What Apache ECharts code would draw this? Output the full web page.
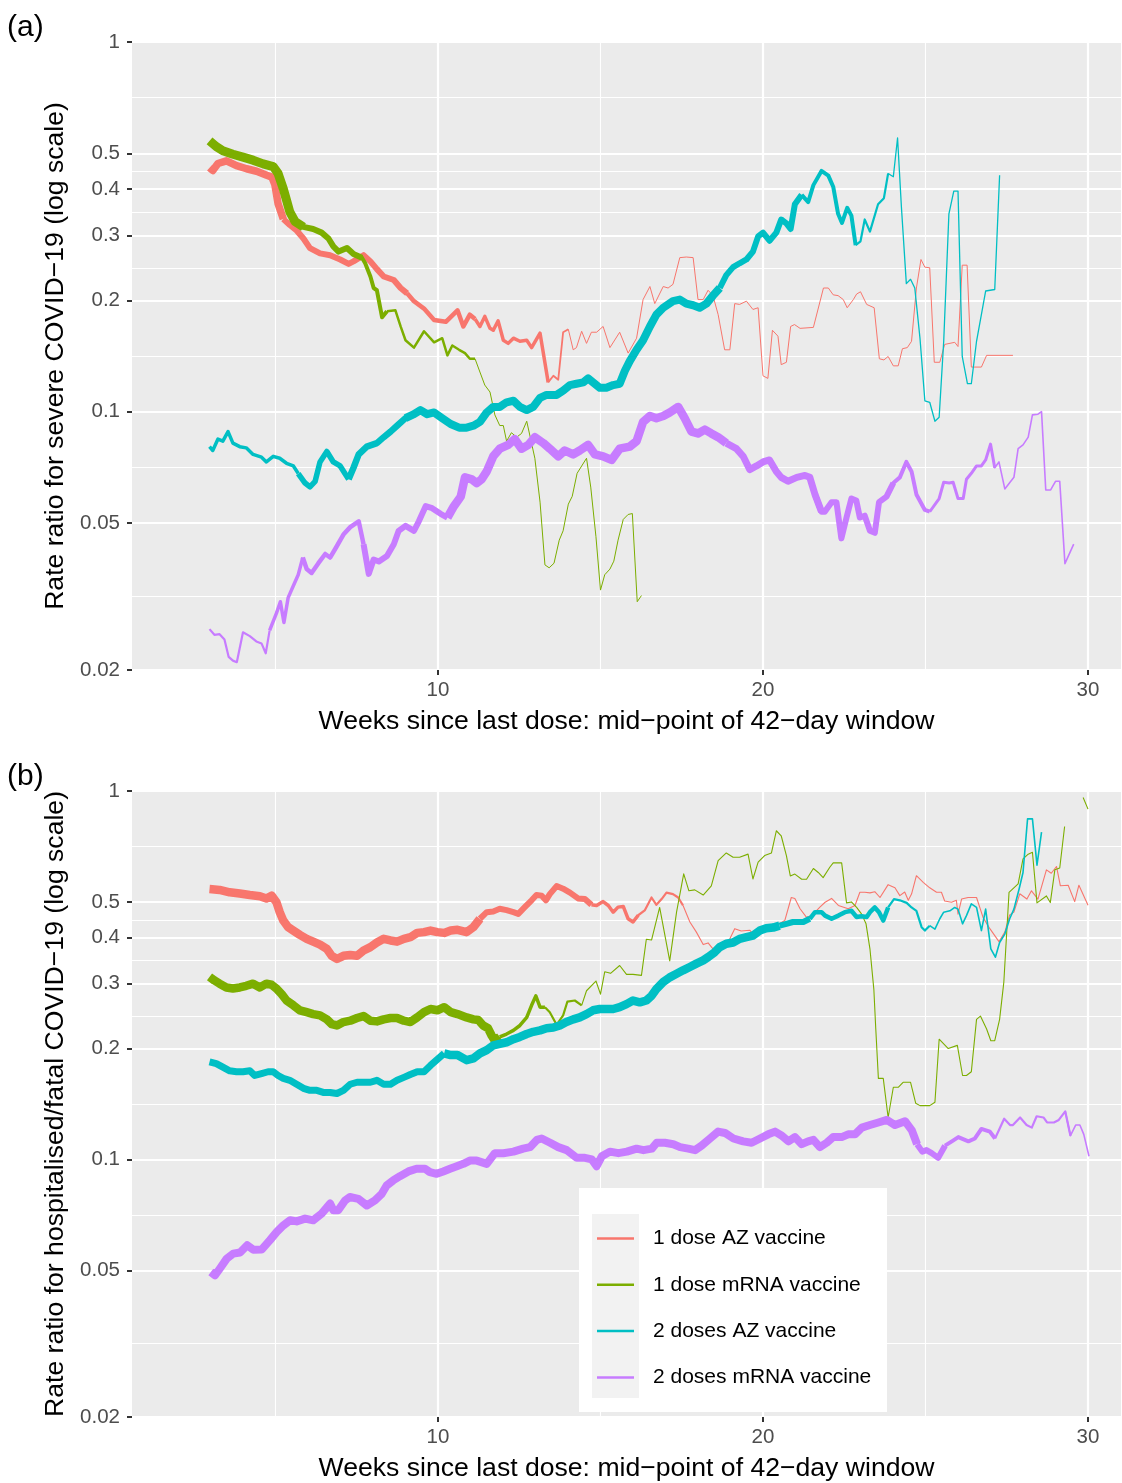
<!DOCTYPE html>
<html><head><meta charset="utf-8">
<script src="https://cdn.jsdelivr.net/npm/echarts@6/dist/echarts.min.js"></script>
<style>html,body{margin:0;padding:0;background:#fff}#c{width:1122px;height:1483px}</style>
</head><body><div id="c"></div>
<script>
// ---------------- DATA ----------------
const seriesNames = ['1 dose AZ vaccine', '1 dose mRNA vaccine', '2 doses AZ vaccine', '2 doses mRNA vaccine'];
const xTickLabels = [10, 20, 30];
const xMinorBreaks = [5, 15, 25];
const yTickLabels = [0.02, 0.05, 0.1, 0.2, 0.3, 0.4, 0.5, 1];

// Panel (a): severe COVID-19, [week, rate ratio]
const aDose1AZ = [[2.97,0.457],[3.07,0.449],[3.23,0.469],[3.49,0.477],[3.80,0.463],[4.11,0.454],[4.42,0.447],[4.73,0.436],[4.89,0.431],[4.98,0.411],[5.08,0.365],[5.24,0.332],[5.44,0.320],[5.65,0.309],[5.86,0.294],[6.06,0.277],[6.37,0.268],[6.68,0.265],[6.99,0.258],[7.25,0.251],[7.40,0.255],[7.71,0.265],[7.92,0.255],[8.12,0.243],[8.33,0.232],[8.64,0.227],[8.85,0.216],[9.05,0.209],[9.26,0.199],[9.57,0.190],[9.88,0.177],[10.24,0.175],[10.60,0.188],[10.78,0.170],[10.98,0.183],[11.14,0.178],[11.29,0.170],[11.44,0.181],[11.60,0.168],[11.70,0.166],[11.85,0.176],[12.01,0.156],[12.16,0.153],[12.32,0.158],[12.52,0.155],[12.73,0.156],[12.88,0.149],[13.14,0.163],[13.39,0.120],[13.55,0.125],[13.70,0.122],[13.85,0.164],[14.01,0.167],[14.16,0.147],[14.26,0.149],[14.42,0.165],[14.57,0.153],[14.72,0.164],[14.88,0.164],[15.08,0.170],[15.29,0.149],[15.59,0.164],[15.85,0.144],[16.11,0.158],[16.31,0.201],[16.52,0.218],[16.67,0.196],[16.93,0.218],[17.08,0.216],[17.23,0.221],[17.44,0.261],[17.64,0.262],[17.85,0.261],[18.00,0.201],[18.16,0.201],[18.31,0.213],[18.46,0.206],[18.62,0.183],[18.82,0.147],[18.98,0.147],[19.13,0.196],[19.28,0.195],[19.49,0.199],[19.69,0.189],[19.85,0.191],[20.00,0.125],[20.15,0.123],[20.29,0.166],[20.46,0.160],[20.56,0.134],[20.72,0.136],[20.85,0.170],[20.97,0.172],[21.14,0.168],[21.55,0.169],[21.86,0.216],[22.01,0.216],[22.16,0.207],[22.31,0.206],[22.47,0.201],[22.59,0.191],[22.78,0.201],[22.88,0.208],[23.00,0.211],[23.19,0.195],[23.42,0.191],[23.58,0.139],[23.72,0.138],[23.85,0.141],[24.01,0.133],[24.16,0.133],[24.29,0.148],[24.44,0.149],[24.57,0.155],[24.72,0.216],[24.86,0.258],[24.98,0.246],[25.13,0.245],[25.27,0.136],[25.44,0.136],[25.59,0.152],[25.90,0.154],[26.00,0.150],[26.13,0.249],[26.28,0.249],[26.41,0.132],[26.72,0.132],[26.88,0.142],[27.69,0.142]];
const aDose1MRNA = [[2.97,0.540],[3.18,0.521],[3.38,0.508],[3.69,0.497],[4.00,0.488],[4.31,0.479],[4.62,0.468],[4.93,0.460],[5.08,0.441],[5.24,0.401],[5.34,0.373],[5.44,0.347],[5.60,0.327],[5.86,0.316],[6.16,0.312],[6.42,0.305],[6.63,0.294],[6.78,0.280],[6.94,0.271],[7.20,0.277],[7.40,0.267],[7.66,0.261],[7.76,0.252],[7.92,0.232],[8.02,0.216],[8.12,0.213],[8.28,0.180],[8.43,0.187],[8.69,0.188],[8.85,0.170],[9.00,0.156],[9.26,0.149],[9.57,0.165],[9.88,0.154],[10.13,0.158],[10.29,0.142],[10.44,0.151],[10.65,0.147],[10.83,0.144],[10.98,0.139],[11.14,0.139],[11.29,0.128],[11.44,0.118],[11.60,0.113],[11.75,0.098],[11.90,0.0917],[12.01,0.0917],[12.11,0.0832],[12.26,0.0877],[12.42,0.0853],[12.57,0.0873],[12.73,0.0942],[12.98,0.0748],[13.14,0.0569],[13.29,0.0385],[13.42,0.0378],[13.57,0.0389],[13.73,0.0449],[13.85,0.0476],[14.01,0.0562],[14.13,0.0590],[14.28,0.0681],[14.57,0.0748],[14.70,0.0625],[14.86,0.0459],[15.00,0.0329],[15.13,0.0362],[15.29,0.0375],[15.41,0.0394],[15.54,0.0449],[15.70,0.0511],[15.85,0.0527],[15.98,0.0530],[16.13,0.0306],[16.26,0.0318]];
const aDose2AZ = [[2.97,0.0804],[3.07,0.0785],[3.23,0.0843],[3.38,0.0832],[3.54,0.0883],[3.69,0.0822],[3.90,0.0804],[4.10,0.0798],[4.31,0.0766],[4.57,0.0753],[4.72,0.0731],[4.93,0.0757],[5.13,0.0748],[5.34,0.0725],[5.55,0.0713],[5.70,0.0680],[5.91,0.0641],[6.06,0.0626],[6.22,0.0648],[6.37,0.0731],[6.58,0.0780],[6.78,0.0731],[6.99,0.0713],[7.25,0.0656],[7.40,0.0705],[7.56,0.0766],[7.81,0.0804],[8.12,0.0822],[8.33,0.0853],[8.54,0.0883],[8.74,0.0916],[9.00,0.0960],[9.26,0.0984],[9.46,0.101],[9.67,0.0984],[9.88,0.0995],[10.13,0.0960],[10.39,0.0926],[10.65,0.0905],[10.88,0.0905],[11.09,0.0916],[11.29,0.0938],[11.50,0.0995],[11.70,0.103],[11.90,0.103],[12.11,0.106],[12.32,0.107],[12.52,0.103],[12.73,0.101],[12.93,0.103],[13.14,0.109],[13.34,0.111],[13.65,0.111],[13.85,0.114],[14.06,0.118],[14.26,0.119],[14.47,0.120],[14.62,0.123],[14.77,0.120],[14.98,0.116],[15.18,0.116],[15.39,0.118],[15.59,0.119],[15.75,0.129],[15.90,0.137],[16.11,0.147],[16.31,0.156],[16.52,0.170],[16.72,0.183],[16.93,0.191],[17.23,0.199],[17.44,0.201],[17.64,0.196],[17.85,0.194],[18.05,0.191],[18.26,0.196],[18.46,0.206],[18.67,0.216],[18.87,0.234],[19.08,0.246],[19.28,0.252],[19.49,0.258],[19.69,0.271],[19.85,0.298],[20.00,0.305],[20.20,0.290],[20.41,0.305],[20.56,0.331],[20.72,0.323],[20.85,0.312],[20.98,0.364],[21.19,0.386],[21.39,0.369],[21.55,0.410],[21.80,0.448],[22.01,0.435],[22.16,0.406],[22.31,0.343],[22.43,0.324],[22.59,0.356],[22.72,0.339],[22.85,0.282],[23.00,0.289],[23.13,0.331],[23.29,0.307],[23.54,0.364],[23.72,0.378],[23.85,0.441],[24.01,0.432],[24.14,0.550],[24.26,0.356],[24.41,0.222],[24.54,0.228],[24.67,0.216],[24.83,0.158],[24.98,0.107],[25.13,0.106],[25.29,0.0942],[25.42,0.0966],[25.56,0.155],[25.72,0.343],[25.87,0.395],[26.00,0.395],[26.13,0.141],[26.29,0.119],[26.41,0.119],[26.57,0.155],[26.85,0.212],[27.13,0.214],[27.28,0.436]];
const aDose2MRNA = [[2.97,0.0258],[3.12,0.0249],[3.28,0.0250],[3.43,0.0242],[3.56,0.0217],[3.69,0.0212],[3.81,0.0210],[4.00,0.0253],[4.21,0.0247],[4.41,0.0239],[4.57,0.0236],[4.70,0.0222],[4.82,0.0256],[5.03,0.0285],[5.15,0.0306],[5.26,0.0269],[5.39,0.0314],[5.55,0.0338],[5.70,0.0362],[5.84,0.0403],[5.96,0.0375],[6.11,0.0366],[6.32,0.0389],[6.53,0.0412],[6.68,0.0403],[6.89,0.0433],[7.09,0.0465],[7.30,0.0487],[7.56,0.0505],[7.71,0.0438],[7.87,0.0364],[8.02,0.0398],[8.18,0.0393],[8.43,0.0407],[8.64,0.0438],[8.79,0.0476],[9.00,0.0491],[9.26,0.0476],[9.41,0.0505],[9.62,0.0555],[9.82,0.0548],[10.08,0.0529],[10.29,0.0517],[10.49,0.0555],[10.70,0.0589],[10.83,0.0664],[11.04,0.0656],[11.19,0.0641],[11.34,0.0656],[11.50,0.0689],[11.70,0.0757],[11.90,0.0794],[12.16,0.0813],[12.36,0.0843],[12.57,0.0794],[12.78,0.0813],[12.98,0.0853],[13.24,0.0822],[13.44,0.0794],[13.70,0.0757],[13.90,0.0785],[14.16,0.0766],[14.36,0.0785],[14.62,0.0813],[14.83,0.0766],[15.08,0.0757],[15.34,0.0740],[15.59,0.0794],[15.90,0.0804],[16.11,0.0832],[16.31,0.0938],[16.52,0.0973],[16.72,0.0960],[16.93,0.0973],[17.13,0.0995],[17.39,0.103],[17.59,0.0960],[17.80,0.0883],[18.00,0.0873],[18.21,0.0894],[18.41,0.0873],[18.62,0.0853],[18.87,0.0822],[19.18,0.0794],[19.39,0.0757],[19.59,0.0697],[19.80,0.0713],[20.00,0.0731],[20.20,0.0740],[20.41,0.0689],[20.56,0.0664],[20.77,0.0648],[21.04,0.0664],[21.29,0.0672],[21.44,0.0664],[21.60,0.0597],[21.80,0.0536],[21.90,0.0536],[22.11,0.0569],[22.26,0.0569],[22.41,0.0454],[22.57,0.0517],[22.72,0.0582],[22.87,0.0575],[22.98,0.0517],[23.13,0.0523],[23.29,0.0476],[23.44,0.0470],[23.57,0.0569],[23.80,0.0589],[24.01,0.0641],[24.21,0.0664],[24.41,0.0731],[24.57,0.0689],[24.72,0.0597],[24.98,0.0542],[25.13,0.0536],[25.42,0.0582],[25.56,0.0644],[25.73,0.0641],[25.85,0.0644],[26.00,0.0582],[26.16,0.0582],[26.26,0.0656],[26.41,0.0681],[26.57,0.0713],[26.72,0.0713],[26.85,0.0740],[27.00,0.0817],[27.13,0.0705],[27.26,0.0731],[27.44,0.0618],[27.72,0.0664],[27.85,0.0794],[28.00,0.0813],[28.16,0.0853],[28.29,0.0980],[28.46,0.0984],[28.57,0.100],[28.70,0.0614],[28.85,0.0614],[29.00,0.0648],[29.13,0.0648],[29.29,0.0388],[29.56,0.0438]];

// Panel (b): hospitalised/fatal COVID-19, [week, rate ratio]
const bDose1AZ = [[2.97,0.542],[3.28,0.539],[3.59,0.531],[3.90,0.527],[4.21,0.522],[4.52,0.518],[4.72,0.511],[4.88,0.520],[5.03,0.499],[5.13,0.469],[5.24,0.445],[5.39,0.427],[5.55,0.418],[5.75,0.407],[5.96,0.397],[6.16,0.390],[6.37,0.383],[6.58,0.373],[6.73,0.357],[6.89,0.350],[7.09,0.357],[7.30,0.359],[7.51,0.357],[7.71,0.369],[7.92,0.377],[8.12,0.388],[8.33,0.397],[8.54,0.393],[8.74,0.390],[8.95,0.397],[9.15,0.401],[9.36,0.412],[9.57,0.414],[9.77,0.418],[9.98,0.414],[10.19,0.412],[10.39,0.418],[10.60,0.420],[10.88,0.414],[11.09,0.427],[11.29,0.450],[11.50,0.469],[11.70,0.471],[11.90,0.479],[12.11,0.475],[12.32,0.469],[12.47,0.464],[12.67,0.484],[12.88,0.505],[13.03,0.522],[13.19,0.520],[13.32,0.505],[13.44,0.525],[13.65,0.552],[13.85,0.543],[14.06,0.530],[14.31,0.511],[14.52,0.509],[14.72,0.491],[14.88,0.489],[15.08,0.501],[15.24,0.489],[15.39,0.469],[15.54,0.484],[15.70,0.486],[15.85,0.450],[16.00,0.441],[16.16,0.460],[16.36,0.474],[16.57,0.514],[16.72,0.491],[16.88,0.509],[17.03,0.530],[17.23,0.525],[17.39,0.514],[17.54,0.489],[17.75,0.441],[17.95,0.414],[18.16,0.383],[18.31,0.387],[18.46,0.373],[18.67,0.366],[18.98,0.397],[19.13,0.423],[19.33,0.417],[19.59,0.419],[19.69,0.410],[19.90,0.427],[20.15,0.431],[20.41,0.431],[20.67,0.445],[20.87,0.514],[20.98,0.511],[21.14,0.479],[21.34,0.454],[21.50,0.459],[21.75,0.484],[21.91,0.499],[22.11,0.511],[22.32,0.489],[22.62,0.479],[22.83,0.489],[22.98,0.531],[23.13,0.531],[23.29,0.529],[23.44,0.533],[23.60,0.514],[23.85,0.557],[24.06,0.546],[24.21,0.520],[24.36,0.532],[24.47,0.505],[24.57,0.525],[24.72,0.589],[24.93,0.565],[25.13,0.546],[25.34,0.531],[25.49,0.531],[25.59,0.503],[25.80,0.499],[25.95,0.505],[26.00,0.463],[26.11,0.509],[26.31,0.514],[26.57,0.514],[26.77,0.454],[26.98,0.423],[27.26,0.390],[27.44,0.414],[27.59,0.461],[27.72,0.469],[27.90,0.526],[28.12,0.509],[28.26,0.536],[28.46,0.509],[28.72,0.611],[28.87,0.598],[29.03,0.624],[29.15,0.553],[29.39,0.555],[29.59,0.501],[29.72,0.555],[30.00,0.490]];
const bDose1MRNA = [[2.97,0.313],[3.12,0.306],[3.28,0.300],[3.49,0.293],[3.69,0.291],[3.90,0.293],[4.10,0.296],[4.31,0.300],[4.52,0.293],[4.72,0.300],[4.88,0.298],[5.03,0.291],[5.19,0.281],[5.34,0.270],[5.55,0.262],[5.75,0.254],[5.96,0.251],[6.16,0.248],[6.37,0.246],[6.58,0.240],[6.73,0.233],[6.89,0.231],[7.09,0.236],[7.30,0.238],[7.51,0.242],[7.71,0.245],[7.92,0.238],[8.12,0.237],[8.33,0.240],[8.54,0.242],[8.74,0.242],[8.95,0.238],[9.15,0.236],[9.36,0.243],[9.57,0.251],[9.77,0.256],[9.98,0.254],[10.19,0.259],[10.39,0.251],[10.60,0.248],[10.88,0.243],[11.09,0.240],[11.24,0.239],[11.39,0.231],[11.54,0.227],[11.65,0.217],[11.75,0.210],[11.90,0.215],[12.11,0.219],[12.32,0.224],[12.52,0.231],[12.73,0.243],[12.88,0.262],[13.01,0.278],[13.14,0.259],[13.29,0.259],[13.44,0.251],[13.65,0.232],[13.85,0.246],[13.98,0.268],[14.21,0.270],[14.42,0.262],[14.57,0.287],[14.86,0.305],[15.00,0.281],[15.13,0.323],[15.31,0.320],[15.59,0.336],[15.80,0.318],[16.00,0.318],[16.26,0.316],[16.41,0.396],[16.57,0.394],[16.82,0.483],[17.13,0.346],[17.34,0.469],[17.56,0.596],[17.72,0.536],[17.90,0.539],[18.16,0.522],[18.41,0.553],[18.62,0.647],[18.87,0.679],[19.08,0.661],[19.28,0.661],[19.54,0.674],[19.69,0.577],[19.85,0.641],[20.05,0.668],[20.26,0.679],[20.41,0.780],[20.56,0.756],[20.72,0.668],[20.84,0.588],[20.98,0.595],[21.19,0.576],[21.34,0.576],[21.55,0.616],[21.70,0.601],[21.85,0.582],[22.06,0.622],[22.16,0.638],[22.42,0.638],[22.57,0.497],[22.72,0.500],[22.88,0.483],[23.03,0.464],[23.17,0.436],[23.29,0.373],[23.41,0.290],[23.47,0.226],[23.55,0.166],[23.70,0.166],[23.85,0.130],[24.01,0.157],[24.16,0.157],[24.31,0.162],[24.54,0.162],[24.70,0.142],[24.83,0.140],[25.13,0.140],[25.29,0.143],[25.42,0.212],[25.70,0.200],[25.98,0.204],[26.14,0.169],[26.26,0.169],[26.41,0.173],[26.57,0.240],[26.69,0.245],[26.88,0.226],[27.01,0.210],[27.13,0.210],[27.28,0.240],[27.41,0.303],[27.57,0.531],[27.85,0.560],[28.00,0.654],[28.16,0.674],[28.29,0.682],[28.43,0.497],[28.72,0.519],[28.84,0.498],[28.98,0.611],[29.13,0.618],[29.28,0.801],[29.55,null],[29.85,0.960],[30.00,0.893]];
const bDose2AZ = [[2.97,0.184],[3.18,0.182],[3.38,0.178],[3.59,0.174],[3.80,0.173],[4.00,0.173],[4.21,0.174],[4.36,0.169],[4.57,0.171],[4.77,0.173],[4.93,0.173],[5.08,0.169],[5.24,0.166],[5.44,0.164],[5.65,0.160],[5.86,0.156],[6.06,0.154],[6.27,0.154],[6.47,0.152],[6.68,0.152],[6.89,0.151],[7.09,0.154],[7.30,0.160],[7.51,0.162],[7.71,0.162],[7.92,0.162],[8.12,0.164],[8.33,0.160],[8.54,0.160],[8.74,0.164],[8.95,0.167],[9.15,0.170],[9.36,0.173],[9.57,0.173],[9.77,0.180],[9.98,0.187],[10.19,0.194],[10.39,0.192],[10.60,0.192],[10.88,0.186],[11.09,0.188],[11.29,0.194],[11.50,0.198],[11.70,0.204],[11.90,0.206],[12.11,0.208],[12.32,0.212],[12.52,0.215],[12.73,0.219],[12.93,0.222],[13.14,0.224],[13.34,0.227],[13.55,0.228],[13.75,0.231],[13.95,0.236],[14.16,0.240],[14.36,0.243],[14.57,0.248],[14.77,0.254],[14.98,0.256],[15.18,0.256],[15.39,0.256],[15.59,0.259],[15.80,0.264],[16.00,0.270],[16.21,0.267],[16.41,0.270],[16.57,0.278],[16.72,0.290],[16.93,0.303],[17.13,0.312],[17.34,0.319],[17.54,0.326],[17.75,0.333],[17.95,0.340],[18.16,0.347],[18.31,0.354],[18.51,0.365],[18.67,0.377],[18.87,0.385],[19.08,0.388],[19.28,0.397],[19.49,0.401],[19.69,0.405],[19.90,0.418],[20.10,0.424],[20.31,0.426],[20.51,0.431],[20.72,0.436],[20.92,0.441],[21.04,0.441],[21.24,0.441],[21.44,0.450],[21.60,0.469],[21.80,0.469],[21.91,0.459],[22.11,0.450],[22.32,0.459],[22.52,0.469],[22.72,0.473],[22.88,0.455],[23.03,0.457],[23.19,0.455],[23.29,0.469],[23.44,0.483],[23.57,0.469],[23.70,0.445],[23.85,0.483],[24.03,0.509],[24.21,0.505],[24.42,0.497],[24.57,0.483],[24.72,0.473],[24.88,0.427],[24.98,0.418],[25.13,0.431],[25.29,0.422],[25.44,0.450],[25.56,0.469],[25.75,0.473],[25.90,0.483],[26.00,0.478],[26.14,0.436],[26.26,0.459],[26.41,0.494],[26.57,0.483],[26.72,0.418],[26.85,0.478],[27.01,0.373],[27.15,0.354],[27.28,0.388],[27.44,0.409],[27.59,0.450],[27.72,0.478],[27.88,0.542],[28.00,0.601],[28.14,0.840],[28.29,0.840],[28.43,0.629],[28.57,0.773]];
const bDose2MRNA = [[3.01,0.0495],[3.14,0.0485],[3.29,0.0506],[3.50,0.0538],[3.70,0.0555],[3.91,0.0559],[4.13,0.0585],[4.32,0.0569],[4.58,0.0570],[4.83,0.0604],[5.04,0.0636],[5.24,0.0662],[5.45,0.0684],[5.65,0.0679],[5.91,0.0691],[6.16,0.0684],[6.42,0.0713],[6.68,0.0759],[6.78,0.0728],[6.93,0.0728],[7.14,0.0774],[7.29,0.0791],[7.55,0.0782],[7.81,0.0750],[8.06,0.0774],[8.27,0.0807],[8.42,0.0850],[8.62,0.0877],[8.83,0.0901],[9.09,0.0928],[9.34,0.0944],[9.60,0.0944],[9.75,0.0924],[9.96,0.0914],[10.16,0.0928],[10.37,0.0944],[10.58,0.0959],[10.78,0.0973],[10.98,0.0993],[11.19,0.0993],[11.50,0.0973],[11.75,0.104],[12.01,0.104],[12.32,0.105],[12.62,0.107],[12.83,0.108],[13.04,0.113],[13.19,0.114],[13.45,0.111],[13.70,0.108],[13.96,0.106],[14.27,0.101],[14.52,0.101],[14.73,0.100],[14.88,0.0959],[15.04,0.102],[15.29,0.105],[15.55,0.104],[15.81,0.105],[16.11,0.107],[16.32,0.106],[16.58,0.107],[16.73,0.111],[16.98,0.111],[17.24,0.110],[17.45,0.108],[17.70,0.107],[17.91,0.106],[18.11,0.109],[18.37,0.114],[18.62,0.119],[18.83,0.118],[19.09,0.114],[19.39,0.112],[19.65,0.111],[19.91,0.114],[20.16,0.117],[20.37,0.119],[20.58,0.116],[20.78,0.112],[20.98,0.115],[21.19,0.110],[21.39,0.112],[21.55,0.113],[21.75,0.108],[21.96,0.111],[22.16,0.115],[22.42,0.115],[22.62,0.117],[22.83,0.117],[23.04,0.122],[23.29,0.124],[23.55,0.126],[23.81,0.128],[24.06,0.124],[24.37,0.127],[24.58,0.120],[24.74,0.110],[24.90,0.105],[25.03,0.106],[25.19,0.104],[25.39,0.101],[25.60,0.109],[25.81,0.112],[26.01,0.115],[26.32,0.112],[26.52,0.114],[26.72,0.121],[26.98,0.119],[27.14,0.114],[27.42,0.129],[27.60,0.124],[27.69,0.124],[27.91,0.130],[28.11,0.124],[28.27,0.122],[28.42,0.131],[28.63,0.130],[28.74,0.126],[28.95,0.126],[29.10,0.128],[29.30,0.135],[29.46,0.116],[29.62,0.124],[29.75,0.124],[29.87,0.117],[30.03,0.102]];

// ---------------- STYLE ----------------
const COLORS = ['#F8766D', '#7CAE00', '#00BFC4', '#C77CFF'];
// line width steps: [up to week, width]
const WIDTHS_A = [
  [[5.2,7.5],[9,6],[11,4.5],[13.3,3.5],[14,1.8],[99,1]],
  [[5.6,9],[7.4,6],[8.3,4],[11,2.5],[99,1]],
  [[5.6,3.5],[7.1,5.5],[9,6.5],[18.5,8],[21,6],[22.8,4],[23.8,2.2],[99,1.3]],
  [[4.8,2.2],[5.8,3.5],[7.7,4.5],[10.2,6],[18.7,8.5],[21.6,7],[23.8,6],[25,4],[27,3],[99,1.6]]
];
const WIDTHS_B = [
  [[11.2,8.5],[14.7,6],[16,3.5],[17.5,2.2],[99,1.1]],
  [[11.8,8.5],[13.2,3.5],[14.3,2.2],[99,1.1]],
  [[10,7],[20.5,8.5],[21.3,6],[23.8,4.5],[25,2.2],[99,1.6]],
  [[24.6,8],[25.5,6],[27,4],[29.3,2.2],[99,1.6]]
];
const FONT = '"Liberation Sans", Arial, Helvetica, sans-serif';
const X_MIN = 0.585, X_MAX = 31.015;

const yMinorBreaks = [];
for (let i = 0; i < yTickLabels.length - 1; i++) yMinorBreaks.push(Math.sqrt(yTickLabels[i] * yTickLabels[i + 1]));

function splitByWidth(data, steps) {
  const out = [];
  let start = -Infinity;
  for (const [end, w] of steps) {
    const pts = data.filter(p => p[0] >= start && p[0] <= end);
    const nxt = data.find(p => p[0] > end);
    if (nxt) pts.push(nxt);
    if (pts.length > 1) out.push({ pts, w });
    start = end;
  }
  return out;
}

function xMain(gi) {
  return {
    type: 'value', gridIndex: gi, min: X_MIN, max: X_MAX,
    name: 'Weeks since last dose: mid\u2212point of 42\u2212day window',
    nameLocation: 'middle', nameGap: 38,
    nameTextStyle: { fontFamily: FONT, fontSize: 26.6, color: '#000' },
    axisLine: { show: false },
    axisTick: { show: true, length: 5, customValues: xTickLabels, lineStyle: { color: '#333', width: 2 } },
    axisLabel: { customValues: xTickLabels, margin: 10, fontFamily: FONT, fontSize: 20.5, color: '#4D4D4D' },
    splitLine: { show: true, lineStyle: { color: '#fff', width: 2.2 } }
  };
}
function xMinor(gi) {
  return {
    type: 'value', gridIndex: gi, min: X_MIN, max: X_MAX,
    axisLine: { show: false }, axisLabel: { show: false },
    axisTick: { show: false, customValues: xMinorBreaks },
    splitLine: { show: true, lineStyle: { color: '#fff', width: 1.1 } }
  };
}
function yMain(gi, title) {
  return {
    type: 'log', logBase: 10, gridIndex: gi, min: 0.02, max: 1,
    name: title, nameLocation: 'middle', nameGap: 61, nameRotate: 90,
    nameTextStyle: { fontFamily: FONT, fontSize: 26.6, color: '#000' },
    axisLine: { show: false },
    axisTick: { show: true, length: 5, customValues: yTickLabels, lineStyle: { color: '#333', width: 2 } },
    axisLabel: { customValues: yTickLabels, margin: 12, fontFamily: FONT, fontSize: 20.5, color: '#4D4D4D',
      formatter: v => String(parseFloat((+v).toPrecision(3))) },
    splitLine: { show: true, lineStyle: { color: '#fff', width: 2.2 } }
  };
}
function yMinor(gi) {
  return {
    type: 'log', logBase: 10, gridIndex: gi, min: 0.02, max: 1,
    axisLine: { show: false }, axisLabel: { show: false },
    axisTick: { show: false, customValues: yMinorBreaks },
    splitLine: { show: true, lineStyle: { color: '#fff', width: 1.1 } }
  };
}

const panels = [
  { data: [aDose1AZ, aDose1MRNA, aDose2AZ, aDose2MRNA], widths: WIDTHS_A },
  { data: [bDose1AZ, bDose1MRNA, bDose2AZ, bDose2MRNA], widths: WIDTHS_B }
];
const series = [];
panels.forEach((p, pi) => {
  p.data.forEach((d, si) => {
    splitByWidth(d, p.widths[si]).forEach(seg => {
      series.push({
        type: 'line', name: seriesNames[si], xAxisIndex: pi * 2, yAxisIndex: pi * 2,
        data: seg.pts, symbol: 'none', showSymbol: false, connectNulls: false,
        silent: true, animation: false, z: 2 + si,
        lineStyle: { width: seg.w, color: COLORS[si], join: 'round', cap: 'butt' },
        itemStyle: { color: COLORS[si] }
      });
    });
  });
});

const chart = echarts.init(document.getElementById('c'), null, { renderer: 'canvas' });
chart.setOption({
  backgroundColor: '#fff',
  animation: false,
  grid: [
    { left: 132, top: 42, width: 989, height: 628, show: true, backgroundColor: '#EBEBEB', borderWidth: 0 },
    { left: 132, top: 791, width: 989, height: 628, show: true, backgroundColor: '#EBEBEB', borderWidth: 0 }
  ],
  xAxis: [xMain(0), xMinor(0), xMain(1), xMinor(1)],
  yAxis: [yMain(0, 'Rate ratio for severe COVID\u221219 (log scale)'), yMinor(0),
          yMain(1, 'Rate ratio for hospitalised/fatal COVID\u221219 (log scale)'), yMinor(1)],
  legend: {
    show: true, orient: 'vertical', left: 597, top: 1228, padding: 0,
    itemWidth: 37, itemHeight: 2.5, itemGap: 25.3, icon: 'rect', selectedMode: false,
    data: seriesNames, z: 20,
    textStyle: { fontFamily: FONT, fontSize: 21, color: '#000', padding: [0, 0, 0, 14] }
  },
  graphic: [
    { type: 'text', x: 7, y: 28, style: { text: '(a)', fontFamily: FONT, fontSize: 30, fill: '#000', verticalAlign: 'middle' } },
    { type: 'text', x: 7, y: 777, style: { text: '(b)', fontFamily: FONT, fontSize: 30, fill: '#000', verticalAlign: 'middle' } },
    { type: 'rect', z: 10, shape: { x: 579, y: 1188, width: 308, height: 224 }, style: { fill: '#fff' } },
    { type: 'rect', z: 11, shape: { x: 592, y: 1214, width: 47, height: 184 }, style: { fill: '#F2F2F2' } }
  ],
  series: series
});
</script>
</body></html>
